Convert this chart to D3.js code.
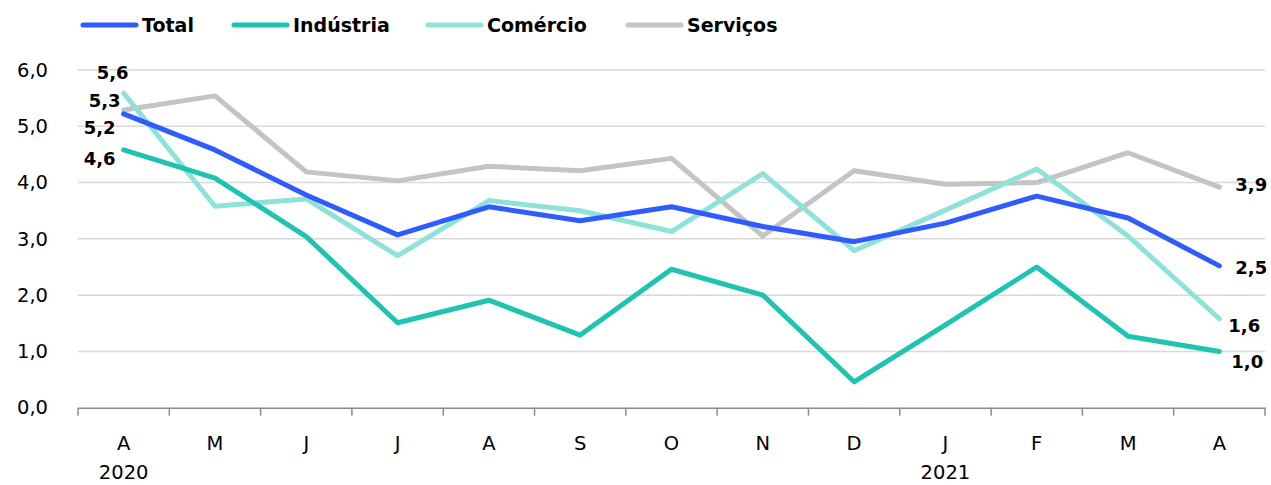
<!DOCTYPE html>
<html><head><meta charset="utf-8">
<script src="https://cdn.jsdelivr.net/npm/d3@7"></script>
<style>
body{margin:0;background:#fff;}
text{font-family:"DejaVu Sans",sans-serif;}
</style></head>
<body><svg id="c" width="1271" height="485"></svg>
<script>
const months = ["A","M","J","J","A","S","O","N","D","J","F","M","A"];
const years = [{i:0,label:"2020"},{i:9,label:"2021"}];
const yTicks = [0,1,2,3,4,5,6];
const total    = [5.22,4.58,3.78,3.07,3.57,3.32,3.57,3.22,2.95,3.28,3.76,3.37,2.52];
const industria= [4.58,4.08,3.04,1.51,1.91,1.29,2.46,2.00,0.46,1.47,2.50,1.27,1.00];
const comercio = [5.59,3.58,3.71,2.70,3.68,3.50,3.13,4.16,2.79,3.51,4.24,3.05,1.58];
const servicos = [5.29,5.54,4.19,4.03,4.29,4.21,4.43,3.05,4.21,3.97,4.00,4.53,3.92];
const seriesNames = ["Total","Indústria","Comércio","Serviços"];
const colors = ["#2f5cff","#1fc3b1","#8fe2d9","#c4c4c4"];
const seriesData = [total,industria,comercio,servicos];

const svg = d3.select("#c");
const x = d3.scaleBand().domain(d3.range(months.length)).range([78,1265]);
const y = d3.scaleLinear().domain([0,6]).range([407.7,70]);
const fmt = v => d3.format(".1f")(v).replace(".",",");
const FONT = '"DejaVu Sans",sans-serif';

// gridlines
svg.append("g").selectAll("line").data(yTicks.filter(d=>d>0)).join("line")
  .attr("x1",78).attr("x2",1265).attr("y1",d=>y(d)).attr("y2",d=>y(d))
  .attr("stroke","#d9d9d9").attr("stroke-width",1.5);

// y axis labels
const ya = svg.append("g").attr("transform","translate(48,0)")
  .call(d3.axisLeft(y).tickValues(yTicks).tickSize(0).tickPadding(0).tickFormat(fmt));
ya.select(".domain").remove();
ya.selectAll("text").attr("font-size",19.5).attr("fill","#000").style("font-family",FONT);

// x axis
const xa = svg.append("g").attr("transform",`translate(0,${y(0)})`)
  .call(d3.axisBottom(x).tickFormat(i=>months[i]).tickSize(0));
xa.select(".domain").attr("stroke","#8c8c8c").attr("stroke-width",1.5);
xa.selectAll(".tick text").attr("y",35).attr("dy","0.35em")
  .attr("font-size",19.5).attr("fill","#000").style("font-family",FONT);
// tick marks at band boundaries
xa.append("g").selectAll("line").data(d3.range(months.length+1)).join("line")
  .attr("x1",i=> i<months.length ? x(i) : x.range()[1])
  .attr("x2",i=> i<months.length ? x(i) : x.range()[1])
  .attr("y1",0).attr("y2",8).attr("stroke","#8c8c8c").attr("stroke-width",1.5);
// years
svg.append("g").selectAll("text").data(years).join("text")
  .attr("x",d=>x(d.i)+x.bandwidth()/2).attr("y",y(0)+64).attr("dy","0.35em")
  .attr("text-anchor","middle").attr("font-size",19.5).text(d=>d.label);

// lines
const line = d3.line().x((d,i)=>x(i)+x.bandwidth()/2).y(d=>y(d));
const order = [3,2,1,0];
svg.append("g").selectAll("path").data(order).join("path")
  .attr("d",k=>line(seriesData[k])).attr("fill","none")
  .attr("stroke",k=>colors[k]).attr("stroke-width",5)
  .attr("stroke-linejoin","round").attr("stroke-linecap","round");

// data labels (first and last)
const labelOffsets = [
  {k:2, i:0, dx:5, dy:-20, anchor:"end"},
  {k:3, i:0, dx:-3, dy:-9, anchor:"end"},
  {k:0, i:0, dx:-8, dy:14, anchor:"end"},
  {k:1, i:0, dx:-8, dy:9, anchor:"end"},
  {k:3, i:12, dx:16, dy:-2, anchor:"start"},
  {k:0, i:12, dx:16, dy:2, anchor:"start"},
  {k:2, i:12, dx:9, dy:7, anchor:"start"},
  {k:1, i:12, dx:12, dy:10, anchor:"start"}
];
svg.append("g").selectAll("text").data(labelOffsets).join("text")
  .attr("x",d=>x(d.i)+x.bandwidth()/2+d.dx)
  .attr("y",d=>y(seriesData[d.k][d.i])+d.dy)
  .attr("dy","0.35em").attr("text-anchor",d=>d.anchor)
  .attr("font-size",18).attr("font-weight","bold")
  .text(d=>fmt(seriesData[d.k][d.i]));

// legend
const legX = [83,234,428,628];
const lg = svg.append("g").selectAll("g").data(seriesNames).join("g")
  .attr("transform",(d,i)=>`translate(${legX[i]},25)`);
lg.append("line").attr("x1",0).attr("x2",53).attr("y1",0).attr("y2",0)
  .attr("stroke",(d,i)=>colors[i]).attr("stroke-width",5).attr("stroke-linecap","round");
lg.append("text").attr("x",59).attr("dy","0.35em").attr("font-size",19)
  .attr("font-weight","bold").text(d=>d);
</script></body></html>
